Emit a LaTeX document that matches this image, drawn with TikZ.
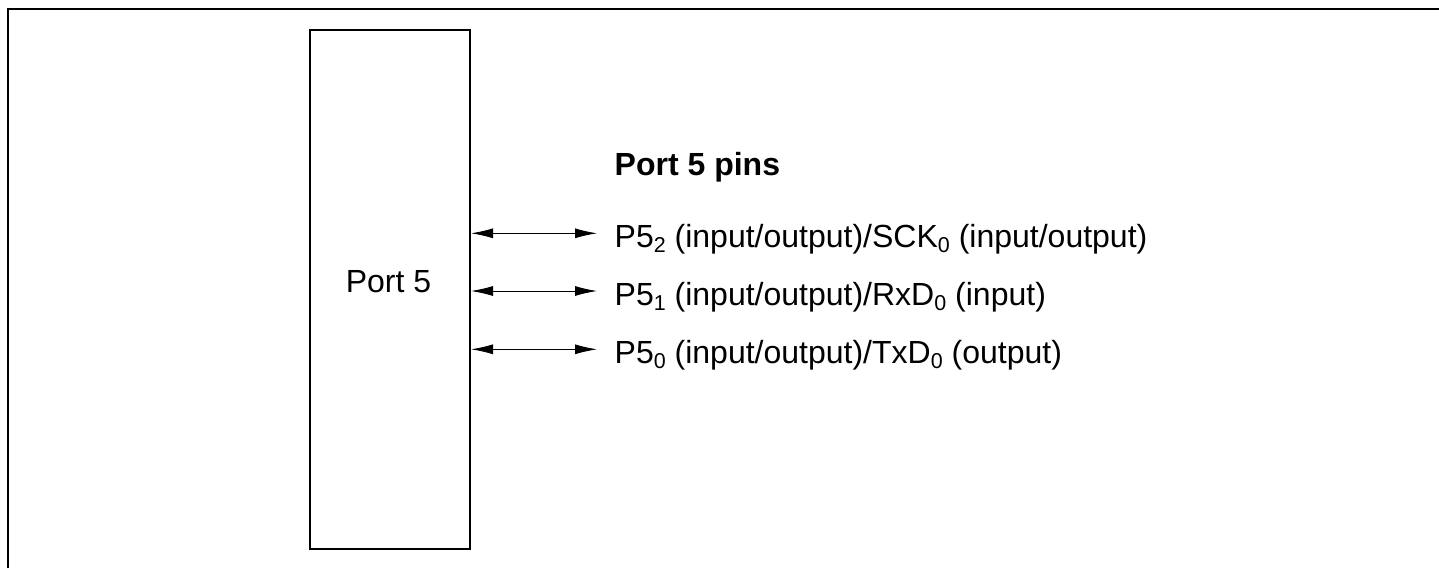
\documentclass[tikz,border=0pt]{standalone}
\usepackage{fontspec}
\setmainfont{Liberation Sans}
\usetikzlibrary{arrows.meta}
\newcommand\pinsub[1]{\raisebox{-5.5pt}{\fontsize{21.5}{22}\selectfont #1}}
\begin{document}
\begin{tikzpicture}[x=1pt,y=-1pt,
  frameline/.style={line width=1.6pt},
  boxline/.style={draw,line width=1.6pt},
  pinarrow/.style={line width=0.9pt,{Latex[length=22pt,width=10pt]}-{Latex[length=22pt,width=10pt]}},
  lbl/.style={font=\fontsize{32}{36}\selectfont,anchor=base west,inner sep=0pt}]
\useasboundingbox (0,0) rectangle (1439,568);
\draw[frameline] (8,568) -- (8,9) -- (1439,9);
\node[boxline,minimum width=160pt,minimum height=519pt,inner sep=0pt] (port) at (390,289.5) {};
\node[font=\fontsize{32}{36}\selectfont,inner sep=0pt,anchor=base] (portlbl) at (388.5,292) {Port 5};
\node[lbl,font=\bfseries\fontsize{32}{36}\selectfont] (title) at (614.5,175) {Port 5 pins};
\node[lbl] (p2) at (614.5,247) {P5\pinsub{2} (input/output)/SCK\pinsub{0} (input/output)};
\node[lbl] (p1) at (614.5,305) {P5\pinsub{1} (input/output)/RxD\pinsub{0} (input)};
\node[lbl] (p0) at (614.5,363) {P5\pinsub{0} (input/output)/TxD\pinsub{0} (output)};
\coordinate (a2) at (471,233.3);
\coordinate (a1) at (471,291);
\coordinate (a0) at (471,349.3);
\coordinate (b2) at (597,233.3);
\coordinate (b1) at (597,291);
\coordinate (b0) at (597,349.3);
\draw[pinarrow] (a2) -- (b2);
\draw[pinarrow] (a1) -- (b1);
\draw[pinarrow] (a0) -- (b0);
\end{tikzpicture}
\end{document}
